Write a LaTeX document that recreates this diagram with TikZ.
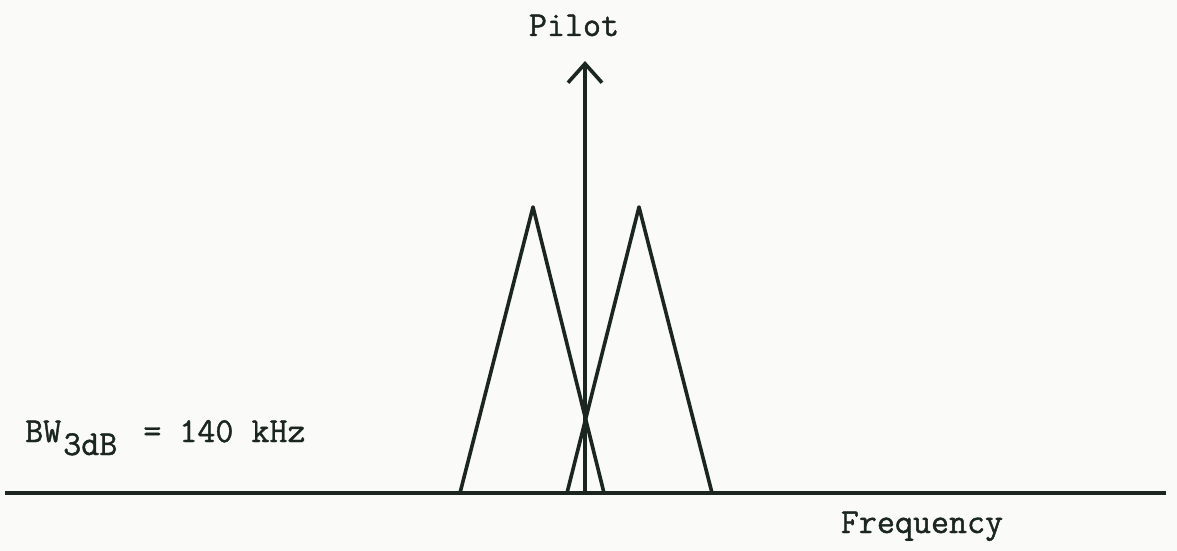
\documentclass[tikz,border=0pt]{standalone}
\usepackage{fontspec}
\newfontfamily\courfont[FakeBold=1.2]{Latin Modern Mono}
\usetikzlibrary{arrows.meta}
\definecolor{ink}{RGB}{28,38,33}
\definecolor{paper}{RGB}{250,250,248}
\tikzset{
  curve/.style={draw=ink,line width=3.6pt,line join=round},
  lbl/.style={text=ink,inner sep=0pt,font=\courfont\fontsize{35}{35}\selectfont},
}
\begin{document}
\begin{tikzpicture}[x=1pt,y=-1pt,>={Straight Barb[length=19pt,width=34pt]}]
\fill[paper] (0,0) rectangle (1177,551);
\useasboundingbox (0,0) rectangle (1177,551);
% axis
\coordinate (A0) at (5,493);
\coordinate (A1) at (1166,493);
\draw[curve] (A0) -- (A1);
% the two channel spectra
\coordinate (L0) at (460,493);
\coordinate (LT) at (533,207);
\coordinate (L1) at (604,493);
\coordinate (R0) at (567,493);
\coordinate (RT) at (639,207);
\coordinate (R1) at (712,493);
\draw[curve] (L0) -- (LT) -- (L1);
\draw[curve] (R0) -- (RT) -- (R1);
% pilot tone
\coordinate (P0) at (585,493);
\coordinate (P1) at (585,61);
\draw[curve,->] (P0) -- (P1);
\node[lbl,anchor=base] (pilot) at (574,36) {Pilot};
\node[lbl,anchor=base west] (bw) at (25,442) {BW\raisebox{-13pt}{\hspace{2pt}3dB}\hspace{8pt} = 140 kHz};
\node[lbl,anchor=base] (freq) at (922,533) {Frequency};
\end{tikzpicture}
\end{document}
